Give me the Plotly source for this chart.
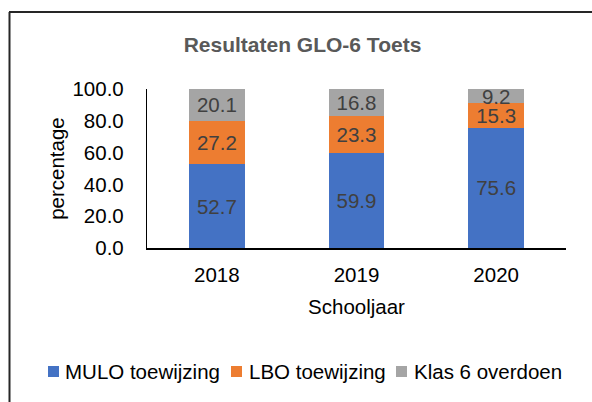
import plotly.graph_objects as go

# Schooljaren en percentages per uitkomst
years = ["2018", "2019", "2020"]
mulo = [52.7, 59.9, 75.6]
lbo = [27.2, 23.3, 15.3]
klas6 = [20.1, 16.8, 9.2]

series_names = ["MULO toewijzing", "LBO toewijzing", "Klas 6 overdoen"]
series_colors = ["#4472C4", "#ED7D31", "#A5A5A5"]
series_values = [mulo, lbo, klas6]

y_ticks = [0, 20, 40, 60, 80, 100]

FONT = "Liberation Sans, Arial, sans-serif"
W, H = 592, 402
L, R, T, B = 147, 26, 89, 154  # plot area margins in px

def px_x(px):
    return (px - L) / (W - L - R)

def px_y(py):
    return (H - B - py) / (H - T - B)

fig = go.Figure()
for name, color, vals in zip(series_names, series_colors, series_values):
    fig.add_trace(go.Bar(
        x=years, y=vals, name=name,
        marker=dict(color=color, line=dict(width=0)),
        text=[f"{v:.1f}" for v in vals],
        textposition="inside", insidetextanchor="middle",
        textfont=dict(family=FONT, size=20.5, color="#404040"),
        showlegend=False,
    ))

# legend drawn as coloured squares with labels underneath the chart
legend_sq = [48, 231, 396]
legend_txt = [63, 247, 412]
legend_cy = 371.5
shapes = []
annotations = []
for name, color, sx, tx in zip(series_names, series_colors, legend_sq, legend_txt):
    shapes.append(dict(type="rect", xref="paper", yref="paper",
                       x0=px_x(sx), x1=px_x(sx + 11),
                       y0=px_y(legend_cy - 5.5), y1=px_y(legend_cy + 5.5),
                       fillcolor=color, line=dict(width=0)))
    annotations.append(dict(text=name, xref="paper", yref="paper",
                            x=px_x(tx), y=px_y(legend_cy),
                            xanchor="left", yanchor="middle", showarrow=False,
                            font=dict(family=FONT, size=20.5, color="#000000")))

# chart frame (top and left edges)
shapes.append(dict(type="line", xref="paper", yref="paper",
                   x0=px_x(9), x1=px_x(600), y0=px_y(12), y1=px_y(12),
                   line=dict(color="#262626", width=2)))
shapes.append(dict(type="line", xref="paper", yref="paper",
                   x0=px_x(9.5), x1=px_x(9.5), y0=px_y(12), y1=px_y(410),
                   line=dict(color="#262626", width=2)))

fig.update_layout(
    width=W, height=H,
    margin=dict(l=L, r=R, t=T, b=B),
    paper_bgcolor="white", plot_bgcolor="white",
    barmode="stack", bargap=0.6,
    title=dict(text="<b>Resultaten GLO-6 Toets</b>", x=302.5 / W, xanchor="center",
               y=1 - 44.5 / H, yanchor="middle",
               font=dict(family=FONT, size=21, color="#595959")),
    uniformtext=dict(minsize=20.5, mode="show"),
    font=dict(family=FONT, size=20.5, color="#000000"),
    shapes=shapes,
    annotations=annotations,
)
fig.update_xaxes(
    showline=True, linecolor="#000000", linewidth=1.5,
    ticks="", ticklabelstandoff=8, showgrid=False,
    tickfont=dict(family=FONT, size=20.5, color="#000000"),
    title=dict(text="Schooljaar", standoff=14,
               font=dict(family=FONT, size=20.5, color="#000000")),
)
fig.update_yaxes(
    range=[0, 100], tickvals=y_ticks, tickformat=".1f",
    showline=True, linecolor="#000000", linewidth=1.3,
    ticks="", ticklabelstandoff=18, showgrid=False, zeroline=False,
    tickfont=dict(family=FONT, size=20.5, color="#000000"),
    title=dict(text="percentage", standoff=2,
               font=dict(family=FONT, size=20.5, color="#000000")),
)

fig.write_html("out.html")
